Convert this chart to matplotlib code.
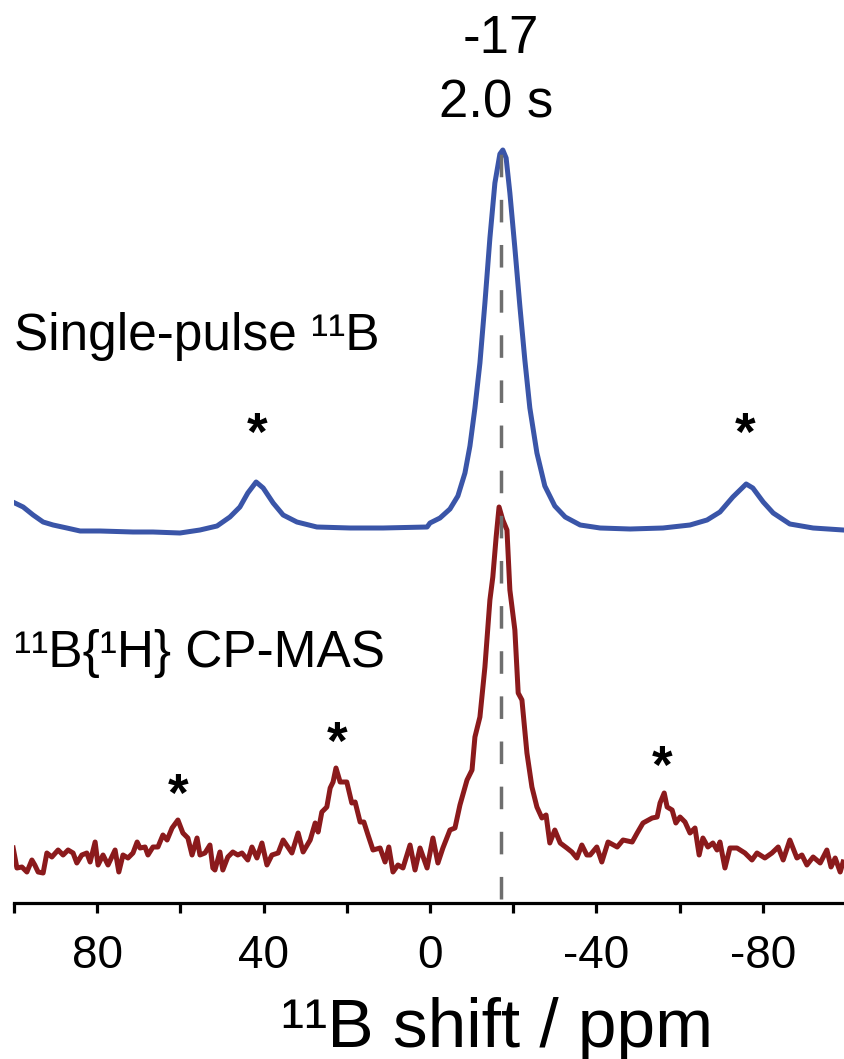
import numpy as np
import matplotlib
matplotlib.use('Agg')
import matplotlib.pyplot as plt

plt.rcParams['font.family'] = ['Liberation Sans', 'DejaVu Sans']

# single-pulse 11B spectrum (ppm, intensity a.u.)
blue_ppm = [99.8, 97.8, 95.4, 93.0, 90.6, 87.3, 84.1, 79.3, 71.4, 66.6, 60.1, 55.3,
            51.2, 48.1, 45.7, 43.8, 41.8, 40.1, 37.7, 35.3, 32.0, 27.2, 19.2, 11.3,
            0.7, 0.0, -2.4, -4.8, -6.7, -8.4, -9.6, -10.8, -12.0, -13.2, -14.4, -15.6,
            -16.8, -17.5, -18.3, -19.2, -20.4, -21.6, -22.8, -24.0, -25.7, -27.6, -30.0,
            -32.5, -36.1, -40.9, -48.1, -56.0, -62.5, -66.6, -69.7, -72.8, -76.0, -77.6,
            -80.1, -82.5, -86.5, -92.1, -99.3]
blue_int = [25, 21, 13, 6, 3, 0, -3, -3, -4, -4, -5, -2,
            2, 11, 21, 35, 46, 40, 25, 13, 6, 1, 0, 0,
            1, 5, 10, 19, 32, 55, 82, 120, 165, 225, 290, 345,
            374, 378, 370, 335, 280, 222, 168, 120, 75, 42, 22,
            11, 3, 0, -1, 0, 3, 8, 16, 31, 44, 40,
            26, 15, 4, 0, -2]

# 11B{1H} CP-MAS spectrum
red_ppm = [100.2, 99.3, 98.1, 96.9, 95.7, 95.0, 94.2, 93.0, 92.1, 90.9, 89.4, 88.2,
           87.0, 85.8, 84.9, 83.7, 82.5, 81.7, 80.5, 79.8, 78.6, 77.4, 75.7, 74.8,
           73.8, 72.6, 71.4, 70.4, 69.7, 68.5, 67.8, 66.6, 65.4, 64.2, 63.2, 62.0,
           60.6, 59.4, 58.2, 57.2, 56.0, 55.3, 54.1, 52.9, 52.2, 51.7, 50.5, 49.8,
           48.6, 47.4, 46.2, 45.2, 43.8, 42.8, 41.6, 40.4, 39.2, 38.0, 36.5, 35.3,
           33.2, 31.7, 30.5, 28.8, 27.6, 26.9, 26.0, 24.8, 24.0, 23.3, 22.6, 21.6,
           20.0, 18.8, 18.0, 16.8, 15.9, 14.9, 13.7, 12.0, 10.8, 9.9, 8.9, 7.7,
           6.5, 4.8, 3.6, 2.4, 0.7, -0.7, -1.9, -3.1, -4.8, -6.0, -7.2, -8.9,
           -10.1, -10.8, -12.0, -13.2, -14.4, -15.1, -15.9, -16.6, -17.5, -18.5, -19.2, -20.4,
           -21.2, -22.1, -23.3, -24.5, -25.7, -26.9, -27.9, -28.8, -30.0, -31.3, -32.9, -34.1,
           -35.3, -36.5, -37.7, -38.5, -40.1, -41.3, -42.8, -45.0, -46.4, -48.6, -49.8, -51.2,
           -53.4, -54.6, -55.3, -56.3, -57.0, -58.2, -59.1, -60.1, -61.3, -62.5, -63.7, -64.7,
           -65.6, -66.8, -68.0, -69.0, -69.7, -70.9, -72.1, -73.8, -75.7, -77.4, -78.6, -80.5,
           -82.2, -83.7, -84.9, -86.5, -88.2, -89.4, -90.6, -92.1, -93.8, -95.4, -96.4, -97.4,
           -98.6, -99.3]
red_int = [7, -13, -12, -17, -5, -10, -17, -18, 2, -2, 5, 0,
           5, 2, -8, 0, 2, -7, 13, -10, 0, -10, 5, -17,
           0, -3, 2, 13, 7, 8, 0, 8, 8, 20, 15, 27,
           35, 22, 17, 0, 17, 0, 2, 10, -13, -15, 3, -15,
           -2, 3, 0, 2, -5, 8, -3, 12, -10, 0, 2, 15,
           2, 22, 3, 15, 32, 23, 43, 48, 67, 73, 87, 73,
           73, 52, 53, 33, 33, 20, 5, 7, -7, 8, -17, -10,
           -13, 10, -15, 7, -13, 17, -8, 7, 25, 27, 50, 75,
           85, 118, 138, 188, 255, 278, 318, 348, 335, 325, 265, 225,
           162, 155, 102, 68, 48, 37, 40, 12, 25, 12, 7, 3,
           -3, 10, 0, 0, 8, -7, 13, 8, 15, 13, 22, 32,
           37, 38, 52, 62, 48, 45, 32, 38, 33, 22, 27, 0,
           17, 8, 12, 5, 13, -13, 7, 7, 2, -5, 2, -3,
           2, 8, -5, 15, -3, 0, -10, -2, -8, 5, -12, -3,
           -17, -7]

blue_offset = 375
red_offset = 48

major_ticks = [80, 40, 0, -40, -80]
major_labels = ['80', '40', '0', '-40', '-80']
minor_ticks = [100, 60, 20, -20, -60, -100]

fig = plt.figure(figsize=(8.44, 10.59), dpi=100)
ax = fig.add_axes([14 / 844, 1 - 903 / 1059, 832 / 844, 903 / 1059])

ax.plot(blue_ppm, np.array(blue_int) + blue_offset, color='#3a55a8', lw=3.6,
        solid_joinstyle='round')
ax.plot(red_ppm, np.array(red_int) + red_offset, color='#8b1a1c', lw=3.6,
        solid_joinstyle='round')

ax.vlines(-17, 4, 753, colors='#6e6e6e', lw=2.5, linestyles=(0, (6.5, 6.5)))

ax.set_xlim(100, -100)
ax.set_ylim(0, 903)
for s in ['left', 'right', 'top']:
    ax.spines[s].set_visible(False)
ax.spines['bottom'].set_linewidth(2.3)
ax.set_yticks([])
ax.set_xticks(major_ticks)
ax.set_xticklabels(major_labels)
ax.set_xticks(minor_ticks, minor=True)
ax.tick_params(axis='x', which='both', direction='out', length=7, width=2.3)
ax.tick_params(axis='x', which='major', labelsize=33, pad=15)

# labels
ax.text(100, 553, 'Single-pulse \u00b9\u00b9B', fontsize=37, ha='left', va='baseline')
ax.text(100, 236, '\u00b9\u00b9B{\u00b9H} CP-MAS', fontsize=37, ha='left', va='baseline')
ax.text(-17, 850, '-17', fontsize=38, ha='center', va='baseline')
ax.text(-16, 786, '2.0 s', fontsize=38, ha='center', va='baseline')

for x, y in [(41.6, 453), (-75.7, 453), (60.6, 92), (22.4, 144), (-55.8, 120)]:
    ax.text(x, y, '*', fontsize=38, fontweight='bold', ha='center', va='baseline')

fig.text(497 / 844, 1 - 1047 / 1059, '\u00b9\u00b9B shift / ppm', fontsize=50,
         ha='center', va='baseline')

fig.savefig('out.png', dpi=100)
